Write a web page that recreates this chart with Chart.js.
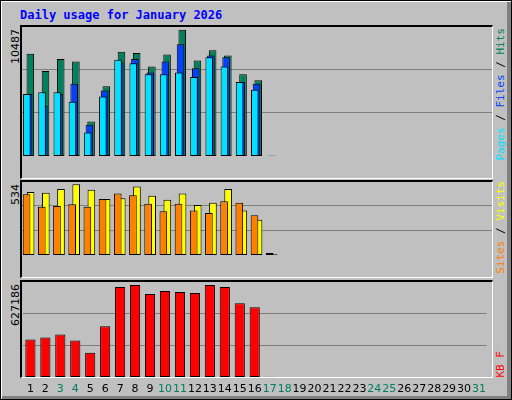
<!DOCTYPE html>
<html>
<head>
<meta charset="utf-8">
<script src="https://cdn.jsdelivr.net/npm/chart.js@4"></script>
<style>
  html, body { margin: 0; padding: 0; }
  #wrap {
    position: relative; width: 510px; height: 398px; background: #c0c0c0;
    border: 1px solid #000; box-shadow: inset 1px 1px #fff, inset -4px -3px #808080;
    font-family: "DejaVu Sans Mono", monospace; overflow: hidden;
  }
  .box { position: absolute; }
  .frame { position: absolute; box-sizing: border-box; border-top: 2px solid #000; border-left: 2px solid #000;
    border-right: 1px solid #fff; border-bottom: 1px solid #fff; pointer-events: none; }
  #title { position: absolute; left: 19px; top: 7px; color: #0000ff; font-weight: bold; font-size: 12px; }
  .vt { position: absolute; writing-mode: vertical-rl; transform: rotate(180deg); font-size: 11px; line-height: 12px; white-space: nowrap; }
  .vl { font-family: "DejaVu Sans", sans-serif; color: #000; }
</style>
</head>
<body>
<div id="wrap">
  <div id="title">Daily usage for January 2026</div>

  <div class="vt vl" style="left:9px; top:28px;">10487</div>
  <div class="vt vl" style="left:9px; top:183px;">534</div>
  <div class="vt vl" style="left:9px; top:283px;">627186</div>

  <div class="vt" style="left:494px; top:27px;"><span style="color:#00e0ff">Pages</span><span style="color:#000">&nbsp;/&nbsp;</span><span style="color:#0040ff">Files</span><span style="color:#000">&nbsp;/&nbsp;</span><span style="color:#00805c">Hits</span></div>
  <div class="vt" style="left:494px; top:180px;"><span style="color:#ff8000">Sites</span><span style="color:#000">&nbsp;/&nbsp;</span><span style="color:#ffff00">Visits</span></div>
  <div class="vt" style="left:494px; top:350px; color:#ff0000">KB&nbsp;F</div>

  <canvas id="c1" class="box" width="471" height="152" style="left:20px; top:25px;"></canvas>
  <canvas id="c2" class="box" width="471" height="96" style="left:20px; top:180px;"></canvas>
  <canvas id="c3" class="box" width="471" height="118" style="left:20px; top:280px;"></canvas>

  <div class="frame" style="left:19px; top:24px; width:473px; height:154px;"></div>
  <div class="frame" style="left:19px; top:179px; width:473px; height:98px;"></div>
  <div class="frame" style="left:19px; top:279px; width:473px; height:98px;"></div>
</div>
<script>
const days = Array.from({ length: 31 }, (_, i) => String(i + 1));
const weekendDays = ["3", "4", "10", "11", "17", "18", "24", "25", "31"];

const hits = [8495, 7071, 8068, 7855, 2871, 5790, 8661, 8566, 7427, 8424, 10487, 7926, 8780, 8353, 6787, 6288, 30];
const files = [5150, 4153, 5150, 6004, 2587, 5434, 7783, 8068, 6929, 7855, 9278, 7285, 8353, 8211, 6146, 6004, 20];
const pages = [5150, 5292, 5292, 4509, 1946, 4936, 7997, 7712, 6787, 6787, 6929, 6573, 8211, 7428, 6146, 5505, 20];

const visits = [476, 470, 499, 534, 493, 423, 429, 517, 447, 418, 464, 377, 394, 499, 336, 266, 6];
const sites = [458, 365, 371, 383, 365, 423, 464, 452, 388, 330, 388, 336, 318, 406, 394, 301, 16];

const kbytes = [255000, 269000, 289000, 248000, 165000, 345000, 613000, 627186, 565000, 586000, 579000, 572000, 627186, 613000, 503000, 475000, 1000];

const max1 = 10800;
const max2 = 559;
const max3 = 654000;

function yAxis(max) {
  return {
    min: 0, max: max,
    afterFit: (s) => { s.width = 0; },
    afterBuildTicks: (s) => { s.ticks = [{ value: max / 3 }, { value: max * 2 / 3 }]; },
    ticks: { display: false },
    grid: { color: "#808080", drawTicks: false },
    border: { display: false }
  };
}

// order: higher number is drawn first (behind)
function bar(data, color, barPct, catPct, order) {
  return {
    data, backgroundColor: color, borderColor: "#000", borderWidth: 1, order,
    borderSkipped: false, barPercentage: barPct, categoryPercentage: catPct
  };
}

function makeChart(id, datasets, max, showX) {
  return new Chart(document.getElementById(id), {
    type: "bar",
    data: { labels: days, datasets },
    options: {
      responsive: false, animation: false, devicePixelRatio: 1,
      layout: { padding: 0 },
      plugins: { legend: { display: false }, tooltip: { enabled: false } },
      scales: {
        x: {
          display: showX,
          afterFit: (s) => { s.height = 22; },
          grid: { display: false, drawTicks: false },
          border: { display: false },
          ticks: {
            padding: 6, maxRotation: 0, autoSkip: false,
            font: { family: "DejaVu Sans", size: 11 },
            color: (ctx) => weekendDays.includes(days[ctx.index]) ? "#00805c" : "#000"
          }
        },
        y: yAxis(max)
      }
    }
  });
}

makeChart("c1", [
  bar(hits, "#00805c", 4.4, 0.34, 3),
  bar(files, "#0040ff", 4.4, 0.34, 2),
  bar(pages, "#00e0ff", 4.4, 0.34, 1)
], max1, false);

makeChart("c2", [
  bar(visits, "#ffff00", 1.9, 0.53, 2),
  bar(sites, "#ff8000", 1.9, 0.53, 1)
], max2, false);

makeChart("c3", [
  bar(kbytes, "#ff0000", 0.68, 1, 1)
], max3, true);
</script>
</body>
</html>
